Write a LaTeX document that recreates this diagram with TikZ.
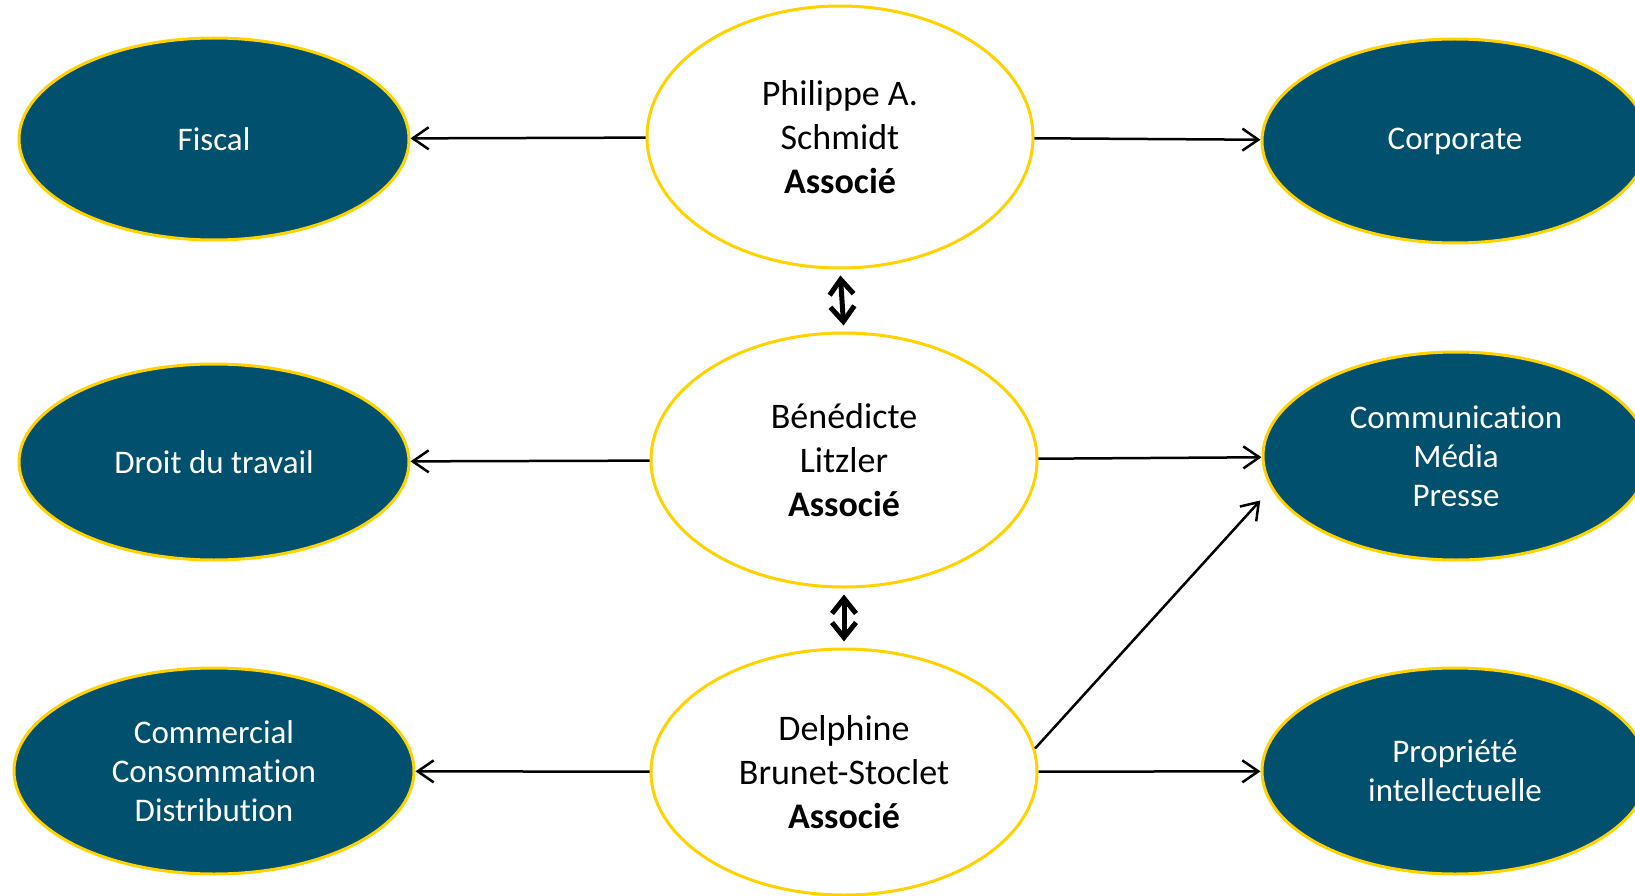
\documentclass[tikz,border=0pt]{standalone}
\usepackage{fontspec}
\setmainfont[Ligatures=NoCommon]{Carlito}
\usetikzlibrary{shapes.geometric,arrows.meta}
\definecolor{petrol}{RGB}{0,80,110}
\definecolor{gold}{RGB}{255,210,0}

\begin{document}
\begin{tikzpicture}[x=1pt,y=-1pt]

      \useasboundingbox (0,0) rectangle (1635,896);

      \begin{scope}[every node/.style={ellipse,draw=gold,line width=3pt,fill=white,inner sep=0pt,align=center,minimum width=386pt,font=\fontsize{36}{44}\selectfont}]
        \node[minimum height=262pt] (1)  at (840,137)  {Philippe A.\\Schmidt\\\textbf{Associé}};
        \node[minimum height=254pt] (2)  at (844,460)  {Bénédicte\\Litzler\\\textbf{Associé}};
        \node[minimum height=246pt] (3)  at (844,772)  {Delphine\\Brunet-Stoclet\\\textbf{Associé}};
      \end{scope}

      \begin{scope}[every node/.style={ellipse,draw=gold,line width=3pt,fill=petrol,text=white,inner sep=0pt,align=center,font=\fontsize{33}{39}\selectfont}]
        \node[minimum width=390pt,minimum height=202pt] (4)  at (214,139)  {Fiscal};
        \node[minimum width=390pt,minimum height=196pt] (5)  at (214,462)  {Droit du travail};
        \node[minimum width=400pt,minimum height=206pt] (6)  at (214,771)  {Commercial\\Consommation\\Distribution};
        \node[minimum width=386pt,minimum height=204pt] (7)  at (1455,141) {Corporate};
        \node[minimum width=386pt,minimum height=208pt] (8)  at (1456,456) {Communication\\Média\\Presse};
        \node[minimum width=386pt,minimum height=206pt] (9)  at (1455,771) {Propriété\\intellectuelle};
      \end{scope}

      \begin{scope}[every edge/.style={draw,line width=2.5pt,-{Straight Barb[length=16pt,width=22pt]}}]
        \path (1)  edge (4);
        \path (1)  edge (7);
        \path (2)  edge (5);
        \path (2)  edge (8);
        \path (3)  edge (6);
        \path (3)  edge (9);
        \path (3.7)  edge[shorten >=16pt] (8.190);
      \end{scope}

      \begin{scope}[every edge/.style={draw,line width=5pt,{Straight Barb[length=15pt,width=24pt]}-{Straight Barb[length=15pt,width=24pt]}}]
        \path (1.south)  edge[shorten <=6pt,shorten >=6pt] (2.north);
        \path (2.south)  edge[shorten <=6pt,shorten >=6pt] (3.north);
      \end{scope}

    \end{tikzpicture}
\end{document}
